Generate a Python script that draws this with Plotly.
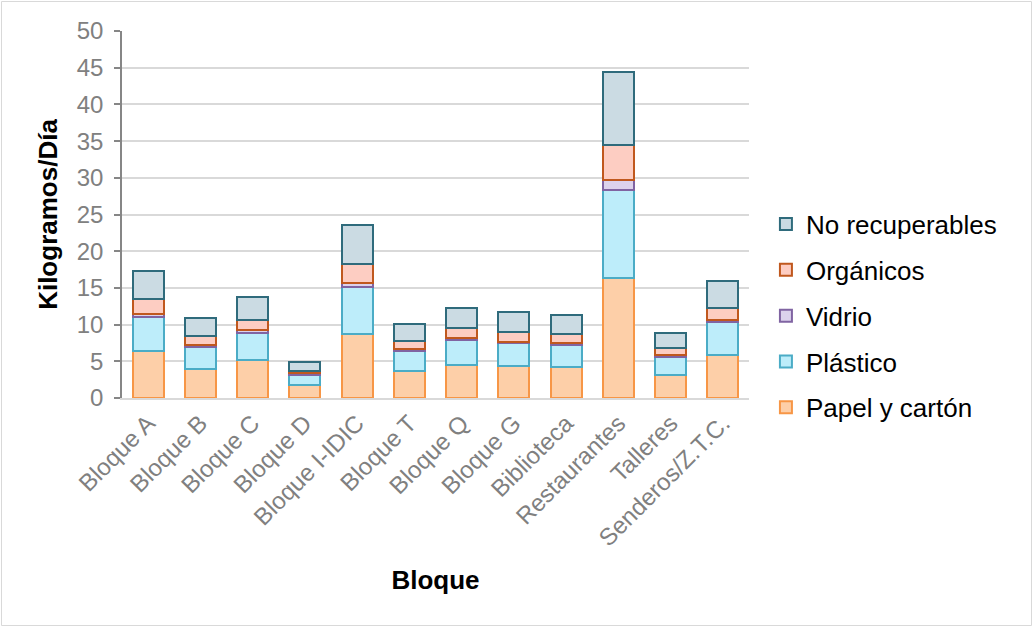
import plotly.graph_objects as go

categories = ["Bloque A", "Bloque B", "Bloque C", "Bloque D", "Bloque I-IDIC", "Bloque T",
              "Bloque Q", "Bloque G", "Biblioteca", "Restaurantes", "Talleres", "Senderos/Z.T.C."]

papel = [6.4, 4.0, 5.15, 1.75, 8.7, 3.65, 4.5, 4.3, 4.2, 16.3, 3.2, 5.85]
plastico = [4.7, 2.95, 3.75, 1.4, 6.4, 2.8, 3.4, 3.15, 3.05, 12.1, 2.4, 4.45]
vidrio = [0.3, 0.25, 0.3, 0.2, 0.6, 0.2, 0.3, 0.2, 0.2, 1.35, 0.2, 0.3]
organicos = [2.05, 1.2, 1.45, 0.3, 2.6, 1.15, 1.3, 1.35, 1.3, 4.75, 0.95, 1.7]
no_recuperables = [3.85, 2.5, 3.1, 1.2, 5.3, 2.3, 2.8, 2.65, 2.55, 9.9, 2.05, 3.65]

series = [
    ("Papel y cartón", papel, "#fdcfa8", "#f79646", 5),
    ("Plástico", plastico, "#bdedfa", "#4bacc6", 4),
    ("Vidrio", vidrio, "#dcd2ec", "#8064a2", 3),
    ("Orgánicos", organicos, "#fdcdc2", "#c0581e", 2),
    ("No recuperables", no_recuperables, "#cbdbe3", "#2f6b7c", 1),
]

fig = go.Figure()
for name, vals, fill, line, rank in series:
    fig.add_trace(go.Bar(
        x=categories, y=vals, name=name, legendgroup=name, legendrank=rank,
        marker=dict(color=fill, line=dict(color=line, width=2)),
    ))

fig.update_layout(
    width=1033, height=627,
    barmode="stack", bargap=0.41,
    paper_bgcolor="white", plot_bgcolor="white",
    margin=dict(l=122, r=284, t=31, b=229, autoexpand=False),
    font=dict(family="Liberation Sans, Arial, sans-serif", color="#7f7f7f"),
    legend=dict(
        x=1.027, xanchor="left", y=0.223, yanchor="middle",
        traceorder="grouped", tracegroupgap=9,
        font=dict(size=26, color="#000000"),
        bgcolor="rgba(0,0,0,0)",
    ),
    shapes=[dict(type="rect", xref="paper", yref="paper",
                 x0=-0.1922, x1=1.4506, y0=-0.6199, y1=1.0804,
                 line=dict(color="#d9d9d9", width=1), fillcolor="rgba(0,0,0,0)", layer="below")],
)

fig.update_yaxes(
    range=[0, 50], dtick=5, tick0=0,
    showgrid=True, gridcolor="#d9d9d9", gridwidth=1.5,
    showline=True, linecolor="#868686", linewidth=1.5,
    ticks="outside", ticklen=6, tickcolor="#868686", tickwidth=1.5,
    ticklabelstandoff=6,
    tickfont=dict(size=24, color="#808080"),
    zeroline=False,
    title=dict(text="<b>Kilogramos/Día</b>", font=dict(size=26, color="#000000"), standoff=12),
)
fig.update_xaxes(
    showline=True, linecolor="#d9d9d9", linewidth=1.5,
    ticks="", tickangle=-45,
    tickfont=dict(size=24, color="#808080"),
    title=dict(text="<b>Bloque</b>", font=dict(size=26, color="#000000"), standoff=21),
)

fig.write_html("out.html", config={"displayModeBar": False},
               post_script="document.body.style.margin='0';")
